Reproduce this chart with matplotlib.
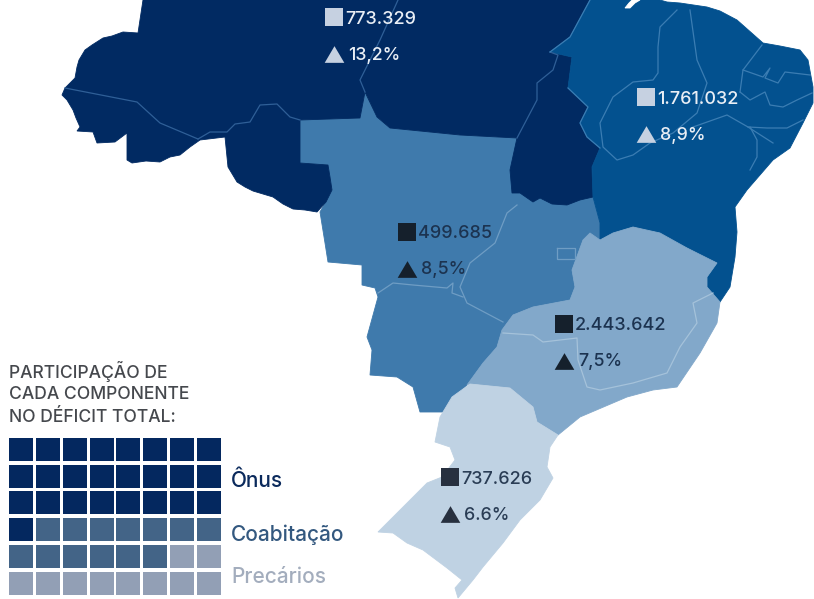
import matplotlib
matplotlib.use('Agg')
import matplotlib.pyplot as plt
from matplotlib.patches import Polygon, Rectangle

plt.rcParams['font.family'] = ['Inter', 'DejaVu Sans']

#### values ####
regions = ['Norte', 'Nordeste', 'Centro-Oeste', 'Sudeste', 'Sul']
deficit = ['773.329', '1.761.032', '499.685', '2.443.642', '737.626']
percent = ['13,2%', '8,9%', '8,5%', '7,5%', '6.6%']
components = ['Ônus', 'Coabitação', 'Precários']
squares = [25, 13, 10]

region_colors = ['#012a62', '#03518f', '#3f7aac', '#82a8ca', '#bfd2e3']
square_colors = ['#04285f', '#436487', '#929fb5']
label_colors = ['#e9eef5', '#e9eef5', '#1c3350', '#1c3350', '#2a3d55']
mark_colors = ['#c6d1e1', '#c6d1e1', '#15202c', '#15202c', '#27303f']
comp_text_colors = ['#0b2a5c', '#33587f', '#a3adbd']

# marker anchor of every region (pixels)
anchors = [(334, 17), (646, 97), (407, 232), (564, 324), (450, 477)]
COLS = 8
TRIANGLE = [(-1, -0.85), (1, -0.85), (0, 0.85)]

#### map outlines, traced in pixels ####
west_border = [(143, 0), (138, 33), (123, 32), (112, 36), (103, 38), (92, 45), (85, 50), (79, 60), (77, 67), (75, 78),
               (65, 88), (62, 95), (67, 100), (73, 110), (76, 118), (80, 127), (77, 131), (93, 132), (97, 143),
               (115, 142), (127, 133), (127, 160), (132, 163), (146, 161), (160, 162), (170, 157), (180, 155),
               (190, 147), (200, 140), (225, 137), (228, 167), (237, 182), (245, 187), (253, 191), (273, 197),
               (283, 204), (293, 209), (305, 210), (317, 212), (326, 202), (332, 190), (330, 177), (328, 165),
               (300, 163), (300, 120), (360, 118), (365, 92), (377, 117), (390, 128), (460, 135), (517, 138),
               (510, 170), (512, 193), (520, 193), (533, 202), (540, 198), (552, 204), (567, 205), (580, 200),
               (593, 197)]
ne_west = [(593, 197), (592, 167), (600, 148), (587, 137), (580, 123), (588, 107), (568, 88), (572, 57),
           (550, 52), (570, 37), (590, 0)]
norte = west_border + ne_west

nordeste = ne_west + [(660, 0), (667, 2), (680, 3), (707, 7), (720, 11), (737, 20), (763, 43), (780, 46), (800, 50),
                      (808, 60), (813, 87), (813, 103), (803, 123), (790, 148), (773, 160), (760, 175), (747, 190),
                      (735, 207), (737, 232), (735, 257), (730, 287), (720, 302), (707, 287), (707, 277), (717, 263),
                      (700, 255), (687, 248), (672, 243), (660, 233), (645, 230), (633, 227), (613, 233), (600, 240),
                      (600, 223)]

island = [(625, 8), (629, 3), (632, 0), (640, 0), (635, 3), (630, 8)]

# runs under the north region along the jagged shared edge
centro = [(300, 163), (300, 120), (360, 118), (365, 92), (377, 117), (390, 128), (460, 135), (517, 138),
          (515, 170), (590, 170), (593, 197), (600, 223), (600, 240), (583, 240),
          (572, 270), (575, 287), (570, 300), (533, 307), (513, 315), (502, 330), (497, 347), (483, 363),
          (467, 385), (443, 412), (420, 412), (413, 387), (397, 377), (370, 375), (372, 350), (367, 337),
          (378, 297), (375, 288), (362, 285), (362, 265), (328, 262), (325, 243), (320, 212), (332, 190),
          (328, 165)]

sudeste = [(583, 240), (590, 233), (600, 240), (613, 233), (633, 227), (660, 233), (687, 248), (717, 263),
           (707, 277), (707, 287), (720, 302), (717, 323), (700, 353), (677, 387), (653, 390), (627, 397),
           (580, 417), (558, 435), (537, 422), (533, 407), (510, 388), (470, 384), (467, 385), (483, 363),
           (497, 347), (502, 330), (513, 315), (533, 307), (570, 300), (575, 287), (572, 270)]

sul = [(470, 384), (510, 388), (533, 407), (537, 422), (558, 435), (550, 447), (547, 467), (553, 478), (540, 500),
       (520, 520), (503, 543), (483, 567), (473, 580), (458, 598), (455, 588), (462, 580), (447, 568), (423, 550),
       (407, 543), (393, 533), (378, 532), (390, 520), (410, 500), (427, 483), (442, 477), (455, 460), (450, 447),
       (435, 442), (440, 417), (452, 397)]

outlines = [norte, nordeste, centro, sudeste, sul]
draw_order = [2, 0, 1, 3, 4]

#### state borders, traced in pixels ####
north_lines = [
    [(65, 88), (137, 102), (160, 123), (198, 139)],
    [(198, 139), (210, 132), (227, 132), (235, 124), (250, 122), (260, 105), (277, 104), (290, 117), (300, 120)],
    [(398, 0), (380, 40), (360, 80), (365, 92)],
    [(517, 138), (537, 100), (537, 83), (553, 70), (558, 55), (550, 52)],
]
ne_lines = [
    [(550, 52), (570, 37), (590, 0)],
    [(568, 88), (588, 107), (580, 123), (587, 137), (600, 148)],
    [(677, 10), (660, 27), (658, 47), (658, 73), (653, 80), (633, 82), (613, 97), (600, 123), (603, 147),
     (617, 160), (633, 155), (650, 143), (673, 133), (697, 113), (707, 83), (697, 60), (690, 10)],
    [(693, 127), (727, 115), (748, 127), (773, 143)],
    [(750, 127), (757, 140), (757, 157), (750, 170)],
    [(748, 127), (767, 128), (787, 128), (803, 120)],
    [(740, 92), (750, 100), (765, 92), (770, 105), (783, 107), (797, 100), (812, 93)],
    [(762, 45), (743, 70), (740, 92)],
    [(743, 70), (763, 77), (770, 68), (765, 78), (778, 83), (785, 72), (810, 75)],
]
cw_lines = [
    [(517, 205), (507, 213), (495, 243), (470, 263), (460, 287), (467, 303), (503, 322)],
    [(378, 293), (393, 283), (413, 285), (447, 288), (453, 283), (452, 293), (463, 297)],
    [(557, 248), (575, 248), (575, 259), (557, 259), (557, 248)],
]
se_lines = [
    [(503, 333), (533, 335), (543, 342), (577, 338), (578, 360), (587, 387), (600, 390), (633, 383), (667, 373),
     (680, 347), (697, 323), (693, 303), (713, 293)],
]
border_groups = [(north_lines, '#2f5f97'), (ne_lines, '#3b7db3'), (cw_lines, '#6f9dc4'), (se_lines, '#a5c2da')]

fig = plt.figure(figsize=(8.14, 5.99), dpi=100)
ax = fig.add_axes([0, 0, 1, 1])
ax.set_xlim(0, 814)
ax.set_ylim(599, 0)
ax.axis('off')

for i in draw_order:
    ax.add_patch(Polygon(outlines[i], closed=True, facecolor=region_colors[i], edgecolor=region_colors[i],
                         linewidth=0.6))
ax.add_patch(Polygon(island, closed=True, facecolor='white', edgecolor='white', linewidth=0.6))

for lines, color in border_groups:
    for line in lines:
        ax.plot([p[0] for p in line], [p[1] for p in line], color=color, lw=0.9, solid_joinstyle='round')

for i in range(len(regions)):
    x, y = anchors[i]
    ax.scatter(x, y, marker='s', s=160, color=mark_colors[i], linewidths=0, zorder=3)
    ax.scatter(x, y + 37, marker=TRIANGLE, s=200, color=mark_colors[i], linewidths=0, zorder=3)
    ax.text(x + 11, y + 2, deficit[i], color=label_colors[i], fontsize=13, fontweight='medium',
            va='center', ha='left', zorder=4)
    ax.text(x + 14, y + 38, percent[i], color=label_colors[i], fontsize=12.8, fontweight='medium',
            va='center', ha='left', zorder=4)

#### waffle legend ####
ax.text(9, 372, 'PARTICIPAÇÃO DE', fontsize=12.6, color='#45484d', va='center', fontweight='medium')
ax.text(9, 394.5, 'CADA COMPONENTE', fontsize=12.6, color='#45484d', va='center', fontweight='medium')
ax.text(9, 417, 'NO DÉFICIT TOTAL:', fontsize=12.6, color='#45484d', va='center', fontweight='medium')

cells = []
for comp, n in enumerate(squares):
    cells += [comp] * n
for k, comp in enumerate(cells):
    col = k % COLS
    row = k // COLS
    ax.add_patch(Rectangle((9.3 + col * 26.75, 438 + row * 26.7), 24, 23, facecolor=square_colors[comp],
                           edgecolor='none'))

for name, y, color in zip(components, [481, 535, 577], comp_text_colors):
    ax.text(231, y, name, fontsize=15, color=color, va='center', ha='left', fontweight='medium')

fig.savefig('out.png', dpi=100)
